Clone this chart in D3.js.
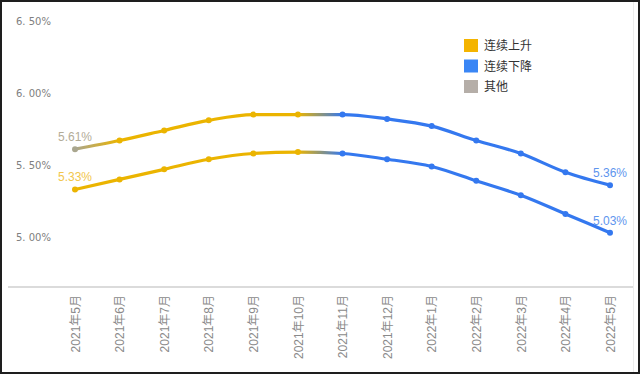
<!DOCTYPE html>
<html>
<head>
<meta charset="utf-8">
<script src="https://cdn.jsdelivr.net/npm/d3@7"></script>
<style>
  body { margin: 0; background: #fff; }
  svg { display: block; }
</style>
</head>
<body>
<div id="viz"></div>
<script>
// data
const months = ["2021年5月", "2021年6月", "2021年7月", "2021年8月", "2021年9月", "2021年10月",
                "2021年11月", "2021年12月", "2022年1月", "2022年2月", "2022年3月", "2022年4月", "2022年5月"];
const upper = [5.61, 5.67, 5.74, 5.81, 5.85, 5.85, 5.85, 5.82, 5.77, 5.67, 5.58, 5.45, 5.36];
const lower = [5.33, 5.40, 5.47, 5.54, 5.58, 5.59, 5.58, 5.54, 5.49, 5.39, 5.29, 5.16, 5.03];
// point category: 0 = 连续上升, 1 = 连续下降, 2 = 其他
const upperCat = [2, 0, 0, 0, 0, 0, 1, 1, 1, 1, 1, 1, 1];
const lowerCat = [0, 0, 0, 0, 0, 0, 1, 1, 1, 1, 1, 1, 1];
const yTicks = [5.0, 5.5, 6.0, 6.5];
const yTickLabels = ["5. 00%", "5. 50%", "6. 00%", "6. 50%"];
const legendNames = ["连续上升", "连续下降", "其他"];

const lineColors = ["#ebb400", "#3478ef", "#a9a68e"];
const legendColors = ["#f4b400", "#3a86f5", "#b5aea8"];

const W = 640, H = 375;
const svg = d3.select("#viz").append("svg")
              .attr("width", W)
              .attr("height", H);

const x = d3.scalePoint().domain(months).range([75, 610]);
const y = d3.scaleLinear().domain([5, 6.5]).range([237, 21]);

// frame
svg.append("rect")
   .attr("x", 1).attr("y", 1)
   .attr("width", W - 2).attr("height", H - 3)
   .attr("fill", "none")
   .attr("stroke", "#1e1e1e")
   .attr("stroke-width", 2);
svg.append("line")
   .attr("x1", 633.5).attr("x2", 633.5)
   .attr("y1", 2).attr("y2", H - 3)
   .attr("stroke", "#ececec");

// y tick labels (no axis line)
svg.selectAll(".ytick")
   .data(yTicks)
   .enter()
   .append("text")
   .attr("class", "ytick")
   .attr("x", 16)
   .attr("y", d => y(d) + 4)
   .attr("font-family", "DejaVu Sans")
   .attr("font-size", "10px")
   .attr("fill", "#808080")
   .text((d, i) => yTickLabels[i]);

// x axis
const xAxis = svg.append("g")
   .attr("transform", "translate(0,287)")
   .call(d3.axisBottom(x).tickSize(0).tickPadding(0));
xAxis.select(".domain").remove();
xAxis.append("line")
   .attr("x1", 8).attr("x2", 633)
   .attr("stroke", "#cfcfcf")
   .attr("stroke-width", 1.5);
xAxis.selectAll(".tick text")
   .attr("transform", "rotate(-90)")
   .attr("x", -8)
   .attr("y", 0)
   .attr("dy", "0.35em")
   .attr("text-anchor", "end")
   .attr("font-family", "'Liberation Sans', 'Noto Sans CJK SC'")
   .attr("font-size", "12px")
   .attr("fill", "#8a8a8a");

// gradient per series, colour stops at the point positions
const defs = svg.append("defs");
function makeGradient(id, cats) {
  const g = defs.append("linearGradient")
                .attr("id", id)
                .attr("gradientUnits", "userSpaceOnUse")
                .attr("x1", x(months[0])).attr("x2", x(months[months.length - 1]))
                .attr("y1", 0).attr("y2", 0);
  const span = x(months[months.length - 1]) - x(months[0]);
  cats.forEach((c, i) => {
    g.append("stop")
     .attr("offset", (x(months[i]) - x(months[0])) / span)
     .attr("stop-color", lineColors[c]);
  });
}
makeGradient("gradUpper", upperCat);
makeGradient("gradLower", lowerCat);

const line = d3.line()
               .x((d, i) => x(months[i]))
               .y(d => y(d))
               .curve(d3.curveMonotoneX);

const series = [
  { values: upper, cats: upperCat, grad: "gradUpper" },
  { values: lower, cats: lowerCat, grad: "gradLower" }
];

series.forEach(s => {
  svg.append("path")
     .datum(s.values)
     .attr("d", line)
     .attr("fill", "none")
     .attr("stroke", `url(#${s.grad})`)
     .attr("stroke-width", 3.2)
     .attr("stroke-linejoin", "round");

  svg.selectAll(null)
     .data(s.values)
     .enter()
     .append("circle")
     .attr("cx", (d, i) => x(months[i]))
     .attr("cy", d => y(d))
     .attr("r", 3)
     .attr("fill", (d, i) => lineColors[s.cats[i]]);
});

// end labels
const labelColors = ["#f2c64c", "#5e95ee", "#b3ac98"];
const endLabels = [
  { i: 0, v: upper[0], c: upperCat[0] },
  { i: 0, v: lower[0], c: lowerCat[0] },
  { i: months.length - 1, v: upper[months.length - 1], c: upperCat[months.length - 1] },
  { i: months.length - 1, v: lower[months.length - 1], c: lowerCat[months.length - 1] }
];
svg.selectAll(".vlabel")
   .data(endLabels)
   .enter()
   .append("text")
   .attr("class", "vlabel")
   .attr("x", d => x(months[d.i]))
   .attr("y", d => y(d.v) - 8)
   .attr("text-anchor", "middle")
   .attr("font-family", "Liberation Sans")
   .attr("font-size", "12px")
   .attr("fill", d => labelColors[d.c])
   .text(d => d.v.toFixed(2) + "%");

// legend
const legend = svg.append("g").attr("transform", "translate(464,39)");
legendNames.forEach((name, i) => {
  legend.append("rect")
        .attr("x", 0)
        .attr("y", i * 20.5)
        .attr("width", 14)
        .attr("height", 13)
        .attr("fill", legendColors[i]);
  legend.append("text")
        .attr("x", 20)
        .attr("y", i * 20.5 + 11)
        .attr("font-family", "Noto Sans CJK SC")
        .attr("font-size", "12px")
        .attr("fill", "#333")
        .text(name);
});
</script>
</body>
</html>
